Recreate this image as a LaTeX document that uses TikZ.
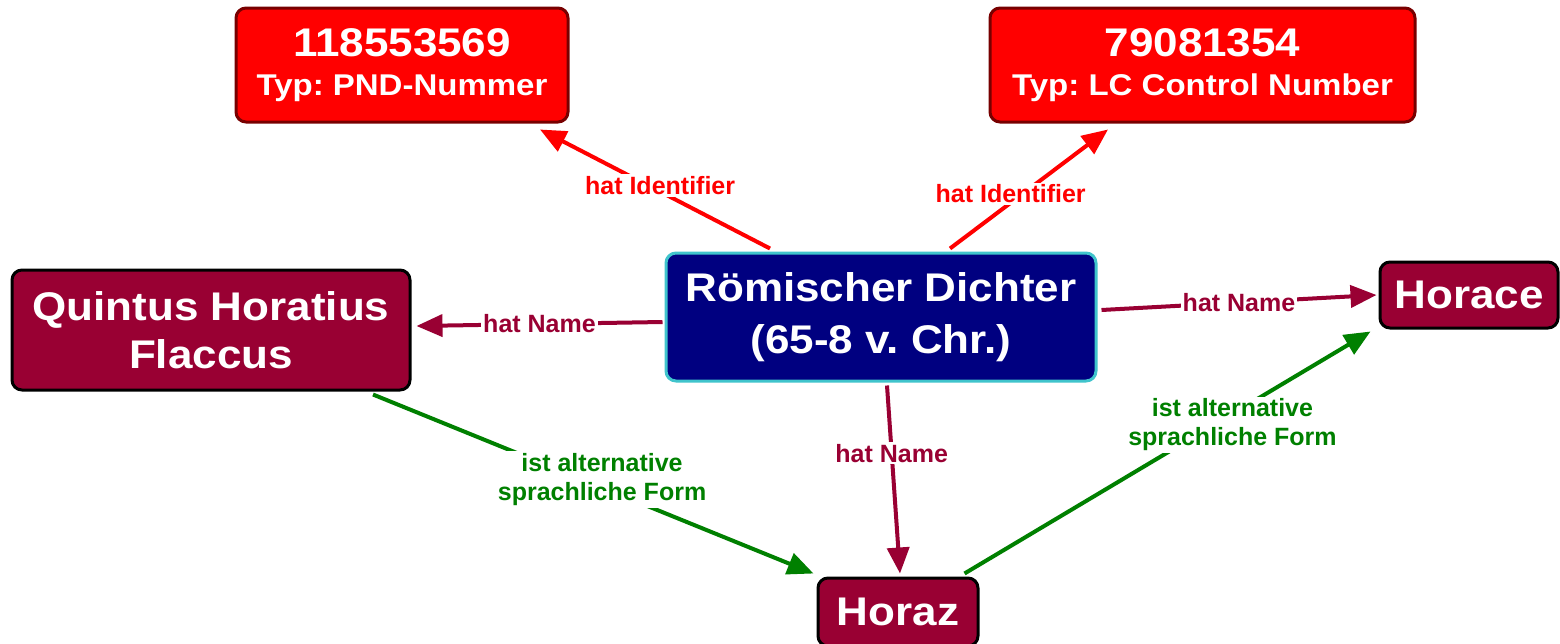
\documentclass[tikz,border=0pt]{standalone}
\usepackage{fontspec}
\setmainfont{Liberation Sans}
\newfontfamily\widefont{Liberation Sans}[FakeStretch=1.1]
\frenchspacing
\usetikzlibrary{arrows.meta,calc}
\definecolor{idred}{RGB}{255,0,0}
\definecolor{idborder}{RGB}{120,0,0}
\definecolor{navyfill}{RGB}{0,0,128}
\definecolor{cyanborder}{RGB}{64,196,204}
\definecolor{maroon}{RGB}{153,0,51}
\definecolor{greenline}{RGB}{0,128,0}
\tikzset{
  box/.style={rectangle, rounded corners=10pt, line width=3pt, text=white,
    align=center, inner sep=0pt, font=\widefont\bfseries\fontsize{40}{48}\selectfont},
  idbox/.style={box, fill=idred, draw=idborder, font=\widefont\bfseries\fontsize{30}{39}\selectfont},
  mainbox/.style={box, fill=navyfill, draw=cyanborder, font=\widefont\bfseries\fontsize{40}{52}\selectfont},
  namebox/.style={box, fill=maroon, draw=black},
  conn/.style={line width=4pt, -{Triangle[length=26pt,width=22pt]}},
  lbl/.style={fill=white, inner sep=2pt, font=\bfseries\fontsize{25}{29}\selectfont, align=center},
}
\begin{document}
\begin{tikzpicture}[x=1pt,y=-1pt]
\useasboundingbox[fill=white] (0,0) rectangle (1560,643);
\node[idbox, minimum width=332pt, minimum height=114pt] (pnd) at (402,65)
  {{\fontsize{40}{40}\selectfont 118553569}\\Typ: PND-Nummer};
\node[idbox, minimum width=425pt, minimum height=114pt] (lc) at (1202.5,65)
  {{\fontsize{40}{40}\selectfont 79081354}\\Typ: LC Control Number};
\node[mainbox, minimum width=430pt, minimum height=128pt] (c) at (881,317)
  {Römischer Dichter\\(65-8 v. Chr.)};
\node[namebox, minimum width=398pt, minimum height=120pt] (q) at (211,330)
  {Quintus Horatius\\Flaccus};
\node[namebox, minimum width=178pt, minimum height=66pt] (horace) at (1469,295) {Horace};
\node[namebox, minimum width=160pt, minimum height=68pt] (horaz) at (898,612) {Horaz};

\draw[conn, idred] ([xshift=-111pt,yshift=3pt]c.north) -- node[lbl, text=idred, pos=0.53, xshift=12pt] {hat Identifier} ([xshift=138pt,yshift=-6pt]pnd.south);
\draw[conn, idred] ([xshift=69pt,yshift=3pt]c.north) -- node[lbl, text=idred, pos=0.46, xshift=-12pt] {hat Identifier} ([xshift=-94.5pt,yshift=-6pt]lc.south);
\draw[conn, maroon] ([xshift=-2pt,yshift=-5pt]c.west) -- node[lbl, text=maroon, pos=0.5] {hat Name} ([xshift=5pt,yshift=4pt]q.east);
\draw[conn, maroon] ([xshift=4pt,yshift=7pt]c.east) -- node[lbl, text=maroon, pos=0.5] {hat Name} ([xshift=-2pt]horace.west);
\draw[conn, maroon] ([xshift=6pt,yshift=-3pt]c.south) -- node[lbl, text=maroon, pos=0.36] {hat Name} ([xshift=2pt,yshift=3pt]horaz.north);
\draw[conn, greenline] ([xshift=162pt,yshift=-3pt]q.south) -- node[lbl, text=greenline, pos=0.52, yshift=8pt] {ist alternative\\sprachliche Form} ([xshift=-3pt,yshift=3pt]horaz.north west);
\draw[conn, greenline] ([xshift=-15pt,yshift=3pt]horaz.north east) -- node[lbl, text=greenline, pos=0.66, yshift=-11pt] {ist alternative\\sprachliche Form} ([xshift=-8pt,yshift=-2pt]horace.south west);
\end{tikzpicture}
\end{document}
